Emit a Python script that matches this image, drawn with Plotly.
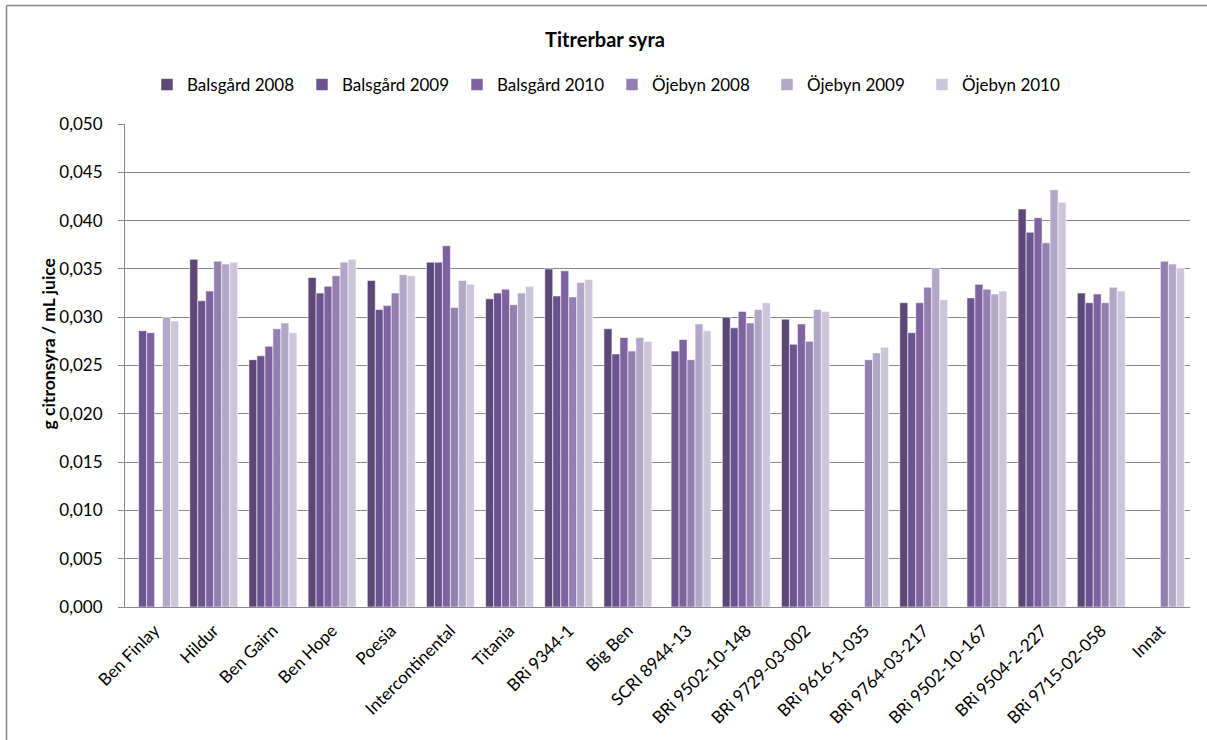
import plotly.graph_objects as go

categories = ["Ben Finlay", "Hildur", "Ben Gairn", "Ben Hope", "Poesia", "Intercontinental",
              "Titania", "BRi 9344-1", "Big Ben", "SCRI 8944-13", "BRi 9502-10-148",
              "BRi 9729-03-002", "BRi 9616-1-035", "BRi 9764-03-217", "BRi 9502-10-167",
              "BRi 9504-2-227", "BRi 9715-02-058", "Innat"]

series_names = ["Balsgård 2008", "Balsgård 2009", "Balsgård 2010",
                "Öjebyn 2008", "Öjebyn 2009", "Öjebyn 2010"]

balsgard_2008 = [None, 0.0360, 0.0256, 0.0341, 0.0338, 0.0357, 0.0319, 0.0350, 0.0288, None,
                 0.0300, 0.0298, None, 0.0315, None, 0.0412, 0.0325, None]
balsgard_2009 = [0.0286, 0.0317, 0.0260, 0.0325, 0.0308, 0.0357, 0.0325, 0.0322, 0.0262, 0.0265,
                 0.0289, 0.0272, None, 0.0284, 0.0320, 0.0388, 0.0315, None]
balsgard_2010 = [0.0284, 0.0327, 0.0270, 0.0332, 0.0312, 0.0374, 0.0329, 0.0348, 0.0279, 0.0277,
                 0.0306, 0.0293, None, 0.0315, 0.0334, 0.0403, 0.0324, None]
ojebyn_2008 = [None, 0.0358, 0.0288, 0.0343, 0.0325, 0.0310, 0.0313, 0.0321, 0.0265, 0.0256,
               0.0294, 0.0275, 0.0256, 0.0331, 0.0329, 0.0377, 0.0315, 0.0358]
ojebyn_2009 = [0.0300, 0.0355, 0.0294, 0.0357, 0.0344, 0.0338, 0.0325, 0.0336, 0.0279, 0.0293,
               0.0308, 0.0308, 0.0263, 0.0351, 0.0324, 0.0432, 0.0331, 0.0355]
ojebyn_2010 = [0.0296, 0.0357, 0.0284, 0.0360, 0.0343, 0.0334, 0.0332, 0.0339, 0.0275, 0.0286,
               0.0315, 0.0306, 0.0269, 0.0318, 0.0327, 0.0419, 0.0327, 0.0351]

series_values = [balsgard_2008, balsgard_2009, balsgard_2010, ojebyn_2008, ojebyn_2009, ojebyn_2010]
colors = ["#5d4777", "#6b5390", "#7e63a0", "#9380b0", "#b1a7c7", "#ccc6da"]

FONT = "Lato"
GRID = "#888888"

W, H = 1207, 740
ML, MR, MT, MB = 125, 17, 124, 133
PW, PH = W - ML - MR, H - MT - MB

fig = go.Figure()
for name, vals, col in zip(series_names, series_values, colors):
    fig.add_trace(go.Bar(
        x=categories, y=vals, name=name,
        marker=dict(color=col, line=dict(color="rgba(255,255,255,0.7)", width=0.8)),
    ))

fig.update_layout(
    width=W, height=H,
    margin=dict(l=ML, r=MR, t=MT, b=MB, autoexpand=False),
    paper_bgcolor="white", plot_bgcolor="white",
    barmode="group", bargap=0.19, bargroupgap=0,
    separators=", ",
    font=dict(family=FONT, size=17, color="#000000"),
    title=dict(text="<b>Titrerbar syra</b>", x=605 / W, xref="container", xanchor="center",
               y=1 - 40 / H, yref="container", yanchor="middle",
               font=dict(family=FONT, size=20, color="#000000")),
    legend=dict(orientation="h", xref="container", yref="container",
                x=612 / W, xanchor="center", y=1 - 85 / H, yanchor="middle",
                entrywidth=110, entrywidthmode="pixels",
                font=dict(family=FONT, size=17, color="#000000"),
                itemwidth=30, traceorder="normal"),
    showlegend=True,
)

fig.update_xaxes(
    type="category", tickangle=-45, showgrid=False,
    showline=True, linecolor=GRID, linewidth=1,
    ticks="", ticklabelstandoff=6,
    tickfont=dict(family=FONT, size=17, color="#000000"),
)
fig.update_yaxes(
    range=[0, 0.05], dtick=0.005, tickformat=".3f",
    showgrid=True, gridcolor=GRID, gridwidth=1,
    showline=True, linecolor=GRID, linewidth=1,
    ticks="outside", ticklen=6, tickcolor=GRID,
    ticklabelstandoff=12,
    zeroline=False,
    tickfont=dict(family=FONT, size=17, color="#000000"),
)

# y-axis title
fig.add_annotation(text="<b>g citronsyra / mL juice</b>", textangle=-90,
                   xref="paper", yref="paper", x=(47.5 - ML) / PW, y=(MT + PH - 344) / PH,
                   xanchor="center", yanchor="middle", showarrow=False,
                   font=dict(family=FONT, size=17.5, color="#000000"))

# outer chart border: only its top and left edges fall inside the picture
x_left = (6.5 - ML) / PW
x_right = (W + 5 - ML) / PW
y_top = (MT + PH - 5.5) / PH
y_bottom = -(H + 5 - (MT + PH)) / PH
fig.add_shape(type="line", xref="paper", yref="paper",
              x0=x_left, x1=x_right, y0=y_top, y1=y_top,
              line=dict(color="#888888", width=1.5), layer="below")
fig.add_shape(type="line", xref="paper", yref="paper",
              x0=x_left, x1=x_left, y0=y_bottom, y1=y_top,
              line=dict(color="#888888", width=1.5), layer="below")

fig.write_html("out.html",
               config={"displayModeBar": False},
               post_script="document.body.style.margin='0';document.body.style.overflow='hidden';")
